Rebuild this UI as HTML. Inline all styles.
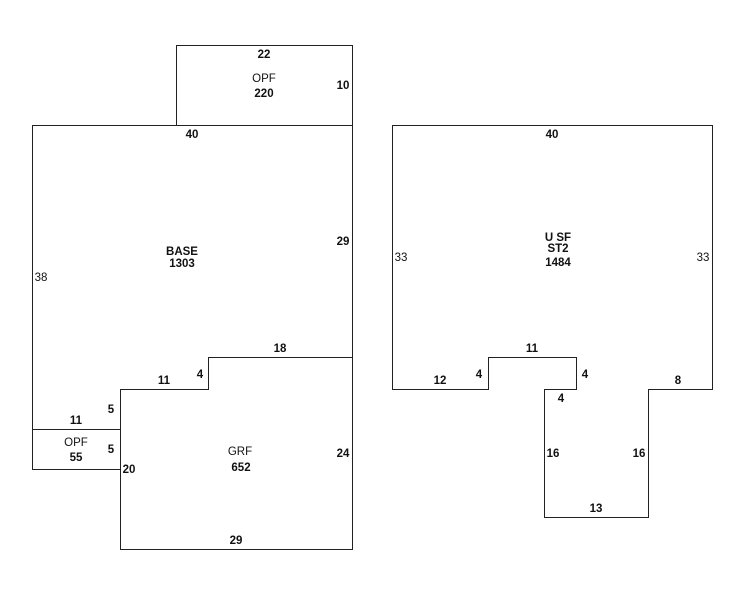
<!DOCTYPE html>
<html><head><meta charset="utf-8"><style>
html,body{margin:0;padding:0;background:#fff;}
svg{display:block;}
text{font-family:"Liberation Sans",Arial,sans-serif;font-size:11.5px;fill:#111;text-anchor:middle;}
.b{font-weight:bold;}
</style></head><body>
<svg width="746" height="595" viewBox="0 0 746 595" xmlns="http://www.w3.org/2000/svg">
<g fill="none" stroke="#222" stroke-width="1" shape-rendering="crispEdges">
<polygon points="176.5,45.5 352.5,45.5 352.5,125.5 176.5,125.5"/>
<polygon points="32.5,125.5 352.5,125.5 352.5,357.5 208.5,357.5 208.5,389.5 120.5,389.5 120.5,429.5 32.5,429.5"/>
<polygon points="120.5,389.5 208.5,389.5 208.5,357.5 352.5,357.5 352.5,549.5 120.5,549.5"/>
<polygon points="32.5,429.5 120.5,429.5 120.5,469.5 32.5,469.5"/>
<polygon points="392.5,125.5 712.5,125.5 712.5,389.5 648.5,389.5 648.5,517.5 544.5,517.5 544.5,389.5 576.5,389.5 576.5,357.5 488.5,357.5 488.5,389.5 392.5,389.5"/>
</g>
<text class="b" x="264" y="58">22</text>
<text x="264" y="82">OPF</text>
<text class="b" x="264" y="97">220</text>
<text class="b" x="343" y="89">10</text>
<text class="b" x="192" y="138">40</text>
<text class="b" x="343" y="245">29</text>
<text class="b" x="182" y="255">BASE</text>
<text class="b" x="182" y="267">1303</text>
<text x="41" y="281">38</text>
<text class="b" x="280" y="352">18</text>
<text class="b" x="164" y="384">11</text>
<text class="b" x="200" y="378">4</text>
<text class="b" x="111" y="413">5</text>
<text class="b" x="76" y="424">11</text>
<text x="76" y="446">OPF</text>
<text class="b" x="76" y="461">55</text>
<text class="b" x="111" y="453">5</text>
<text class="b" x="129" y="473">20</text>
<text x="240" y="455">GRF</text>
<text class="b" x="241" y="471">652</text>
<text class="b" x="343" y="457">24</text>
<text class="b" x="236" y="544">29</text>
<text class="b" x="552" y="138">40</text>
<text class="b" x="558" y="241">U SF</text>
<text class="b" x="558" y="252">ST2</text>
<text class="b" x="558" y="266">1484</text>
<text x="401" y="261">33</text>
<text x="703" y="261">33</text>
<text class="b" x="532" y="352">11</text>
<text class="b" x="440" y="384">12</text>
<text class="b" x="479" y="378">4</text>
<text class="b" x="585" y="378">4</text>
<text class="b" x="678" y="384">8</text>
<text class="b" x="561" y="402">4</text>
<text class="b" x="553" y="457">16</text>
<text class="b" x="639" y="457">16</text>
<text class="b" x="596" y="512">13</text>
</svg>
</body></html>
